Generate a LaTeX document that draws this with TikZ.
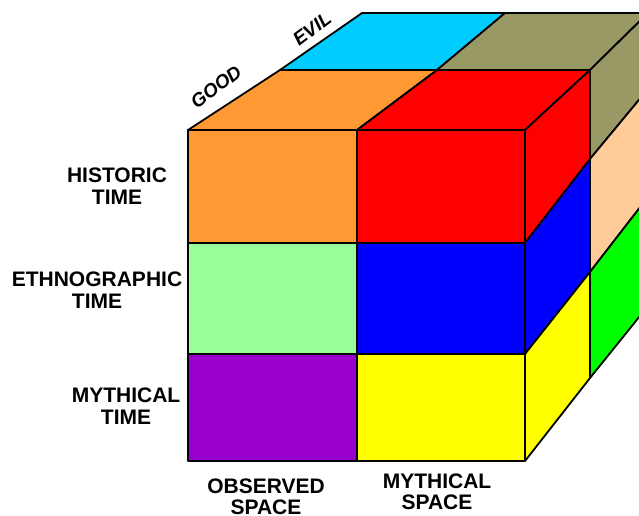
\documentclass[tikz,border=0pt]{standalone}
\usepackage{fontspec}
\setmainfont{Liberation Sans}
\definecolor{cubeorange}{HTML}{FF9933}
\definecolor{cubered}{HTML}{FF0000}
\definecolor{cubecyan}{HTML}{00CCFF}
\definecolor{cubeolive}{HTML}{999966}
\definecolor{cubemint}{HTML}{99FF99}
\definecolor{cubeblue}{HTML}{0000FF}
\definecolor{cubepurple}{HTML}{9900CC}
\definecolor{cubeyellow}{HTML}{FFFF00}
\definecolor{cubepeach}{HTML}{FFCC99}
\definecolor{cubegreen}{HTML}{00FF00}

\begin{document}
\begin{tikzpicture}[
    x=1pt, y=-1pt,
    face/.style={draw=black, line width=1.8pt, line join=round},
    axislabel/.style={align=center, inner sep=0pt, font=\bfseries\fontsize{21}{21.5}\selectfont},
    depthlabel/.style={inner sep=0pt, rotate=37, font=\bfseries\itshape\fontsize{19}{19}\selectfont}
]
    \useasboundingbox (0,0) rectangle (639,516);
    \begin{scope}
    \clip (0,0) rectangle (639,516);
    % top face
    \filldraw[face, fill=cubecyan] (280,70) -- (437,70) -- (505,13) -- (362,13) -- cycle;
    \filldraw[face, fill=cubeolive] (437,70) -- (590,70) -- (648,13) -- (505,13) -- cycle;
    \filldraw[face, fill=cubeorange] (188,130) -- (357,130) -- (437,70) -- (280,70) -- cycle;
    \filldraw[face, fill=cubered] (357,130) -- (525,130) -- (590,70) -- (437,70) -- cycle;
    % side face
    \filldraw[face, fill=cubeolive] (590,70) -- (648,13) -- (648,89) -- (590,159) -- cycle;
    \filldraw[face, fill=cubepeach] (590,159) -- (648,89) -- (648,197) -- (590,272) -- cycle;
    \filldraw[face, fill=cubegreen] (590,272) -- (648,197) -- (648,306) -- (590,378) -- cycle;
    \filldraw[face, fill=cubered] (525,130) -- (590,70) -- (590,159) -- (525,243) -- cycle;
    \filldraw[face, fill=cubeblue] (525,243) -- (590,159) -- (590,272) -- (525,354) -- cycle;
    \filldraw[face, fill=cubeyellow] (525,354) -- (590,272) -- (590,378) -- (525,461) -- cycle;
    % front face
    \filldraw[face, fill=cubeorange] (188,130) rectangle (357,243);
    \filldraw[face, fill=cubered] (357,130) rectangle (525,243);
    \filldraw[face, fill=cubemint] (188,243) rectangle (357,354);
    \filldraw[face, fill=cubeblue] (357,243) rectangle (525,354);
    \filldraw[face, fill=cubepurple] (188,354) rectangle (357,461);
    \filldraw[face, fill=cubeyellow] (357,354) rectangle (525,461);
    \end{scope}

    \node[axislabel] (historic) at (117,186) {HISTORIC\\TIME};
    \node[axislabel] (ethno) at (97,290) {ETHNOGRAPHIC\\TIME};
    \node[axislabel] (mythtime) at (126,406) {MYTHICAL\\TIME};
    \node[axislabel] (observed) at (266,497) {OBSERVED\\SPACE};
    \node[axislabel] (mythspace) at (437,492) {MYTHICAL\\SPACE};
    \node[depthlabel] (good) at (216,87) {GOOD};
    \node[depthlabel] (evil) at (312,29) {EVIL};
\end{tikzpicture}
\end{document}
